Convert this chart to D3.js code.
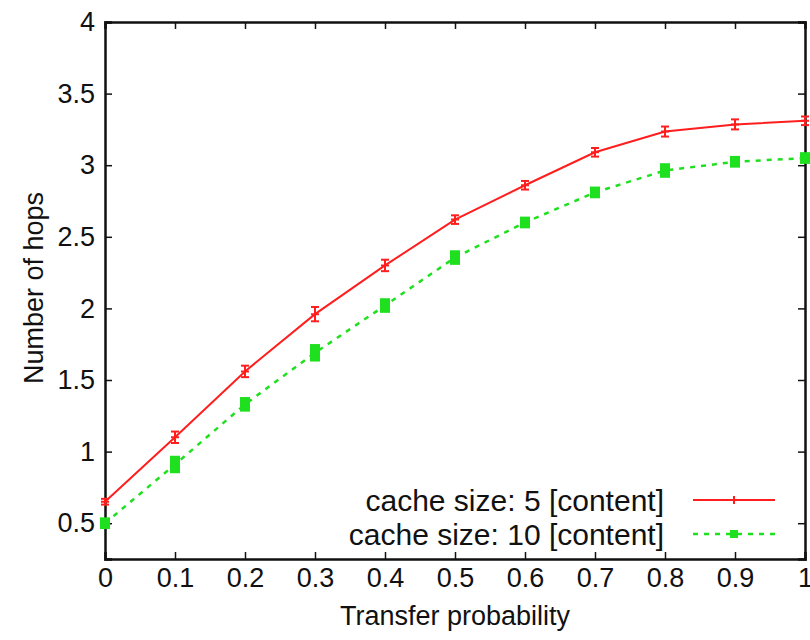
<!DOCTYPE html>
<html lang="en">
<head>
<meta charset="UTF-8">
<title>Number of hops vs transfer probability</title>
<script src="https://d3js.org/d3.v7.min.js"></script>
<style>
  body { margin: 0; background: #fff; }
  text { font-family: "Liberation Sans", Arial, sans-serif; fill: #111; }
</style>
</head>
<body>
<div id="chart"></div>
<script>
const probs = [0, 0.1, 0.2, 0.3, 0.4, 0.5, 0.6, 0.7, 0.8, 0.9, 1.0];
const hops5 = [0.65, 1.10, 1.56, 1.96, 2.30, 2.62, 2.86, 3.09, 3.235, 3.285, 3.31];
const err5 = [0.02, 0.04, 0.04, 0.05, 0.04, 0.03, 0.03, 0.03, 0.035, 0.035, 0.03];
const hops10 = [0.50, 0.91, 1.33, 1.69, 2.02, 2.355, 2.60, 2.81, 2.963, 3.024, 3.05];
const err10 = [0.02, 0.04, 0.03, 0.04, 0.03, 0.03, 0.02, 0.02, 0.03, 0.02, 0.02];
const xTicks = [0, 0.1, 0.2, 0.3, 0.4, 0.5, 0.6, 0.7, 0.8, 0.9, 1];
const yTicks = [0.5, 1, 1.5, 2, 2.5, 3, 3.5, 4];
const seriesNames = ["cache size: 5 [content]", "cache size: 10 [content]"];

const W = 810, H = 640;
const margin = { top: 22, right: 5, bottom: 81, left: 105 };
const width = W - margin.left - margin.right;
const height = H - margin.top - margin.bottom;

const svg = d3.select("#chart").append("svg")
    .attr("width", W).attr("height", H);
const g = svg.append("g")
    .attr("transform", `translate(${margin.left},${margin.top})`);

const x = d3.scaleLinear().domain([0, 1]).range([0, width]);
const y = d3.scaleLinear().domain([0.25, 4]).range([height, 0]);

const fmt = d => String(d);

// axes with inward ticks, mirrored on top/right
g.append("g").attr("transform", `translate(0,${height})`)
    .call(d3.axisBottom(x).tickValues(xTicks).tickSize(-7).tickPadding(9).tickFormat(fmt))
    .call(a => a.selectAll("text").style("font-size", "27px"));
g.append("g")
    .call(d3.axisTop(x).tickValues(xTicks).tickSize(-7).tickFormat(""));
g.append("g")
    .call(d3.axisLeft(y).tickValues(yTicks).tickSize(-7).tickPadding(10).tickFormat(fmt))
    .call(a => a.selectAll("text").style("font-size", "27px"));
g.append("g").attr("transform", `translate(${width},0)`)
    .call(d3.axisRight(y).tickValues(yTicks).tickSize(-7).tickFormat(""));
g.selectAll(".domain").attr("stroke", "#111").attr("stroke-width", 2.5);
g.selectAll(".tick line").attr("stroke", "#111").attr("stroke-width", 1.5);
g.selectAll(".tick text").attr("fill", "#111");

// axis titles
svg.append("text")
    .attr("x", 455).attr("y", 625)
    .attr("text-anchor", "middle").style("font-size", "27px")
    .text("Transfer probability");
svg.append("text")
    .attr("transform", "translate(43,288) rotate(-90)")
    .attr("text-anchor", "middle").style("font-size", "27px")
    .text("Number of hops");

const line = d3.line().x((d, i) => x(probs[i])).y(d => y(d));

// series 1 : red solid with error bars
const red = "#ff1e1e", green = "#1ee01e";
g.append("path").datum(hops5).attr("d", line)
    .attr("fill", "none").attr("stroke", red).attr("stroke-width", 2);
const p5 = g.append("g").selectAll("g").data(hops5).join("g");
p5.append("line")
    .attr("x1", (d, i) => x(probs[i])).attr("x2", (d, i) => x(probs[i]))
    .attr("y1", (d, i) => y(d - err5[i])).attr("y2", (d, i) => y(d + err5[i]))
    .attr("stroke", red).attr("stroke-width", 2);
[-1, 1].forEach(s => {
  p5.append("line")
    .attr("x1", (d, i) => x(probs[i]) - 4).attr("x2", (d, i) => x(probs[i]) + 4)
    .attr("y1", (d, i) => y(d + s * err5[i])).attr("y2", (d, i) => y(d + s * err5[i]))
    .attr("stroke", red).attr("stroke-width", 2);
});
p5.append("path")
    .attr("d", (d, i) => `M${x(probs[i]) - 4},${y(d)}h8M${x(probs[i])},${y(d) - 4}v8`)
    .attr("stroke", red).attr("stroke-width", 2);

// series 2 : green dashed with squares
g.append("path").datum(hops10).attr("d", line)
    .attr("fill", "none").attr("stroke", green).attr("stroke-width", 2.5)
    .attr("stroke-dasharray", "5,6");
const p10 = g.append("g").selectAll("g").data(hops10).join("g");
p10.append("rect")
    .attr("x", (d, i) => x(probs[i]) - 5)
    .attr("y", (d, i) => y(d + err10[i]) - 3)
    .attr("width", 10)
    .attr("height", (d, i) => y(d - err10[i]) - y(d + err10[i]) + 6)
    .attr("fill", green);

// legend
const legend = svg.append("g");
const rows = [
  { name: seriesNames[0], color: red, dash: null, ly: 500 },
  { name: seriesNames[1], color: green, dash: "5,6", ly: 534 }
];
rows.forEach((r, k) => {
  legend.append("text")
    .attr("x", 664).attr("y", r.ly).attr("dy", "0.35em")
    .attr("text-anchor", "end").style("font-size", "30px")
    .text(r.name);
  legend.append("line")
    .attr("x1", 693).attr("x2", 775).attr("y1", r.ly).attr("y2", r.ly)
    .attr("stroke", r.color).attr("stroke-width", k ? 2.5 : 2)
    .attr("stroke-dasharray", r.dash);
  if (k === 0) {
    legend.append("path").attr("d", `M730,${r.ly}h8M734,${r.ly - 4}v8`)
      .attr("stroke", red).attr("stroke-width", 2);
  } else {
    legend.append("rect").attr("x", 730).attr("y", r.ly - 4)
      .attr("width", 8).attr("height", 8).attr("fill", green);
  }
});
</script>
</body>
</html>
